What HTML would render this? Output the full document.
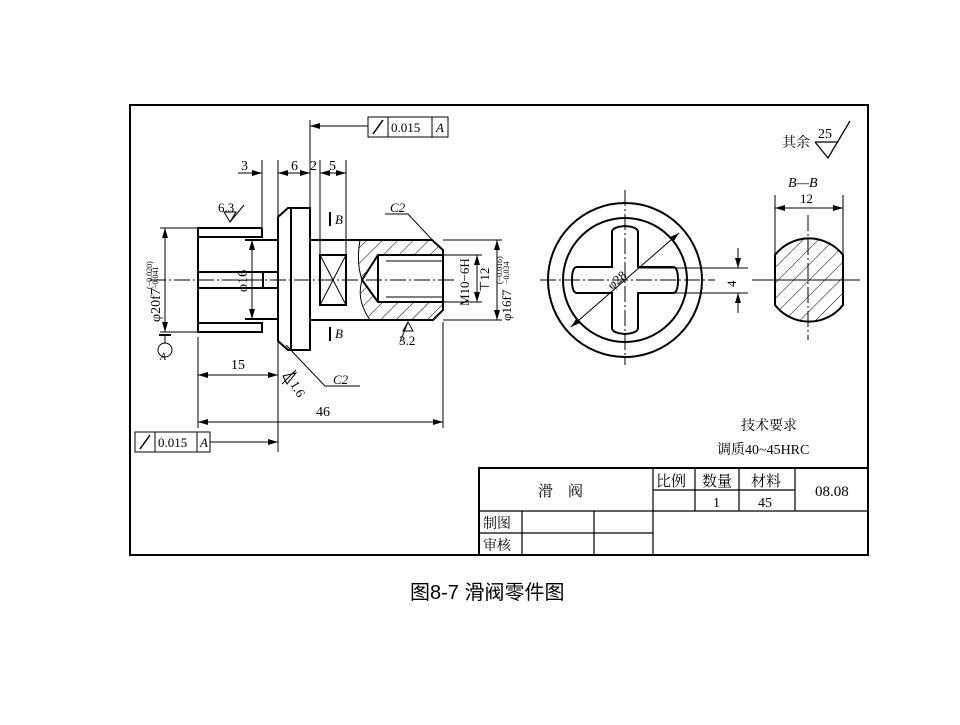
<!DOCTYPE html>
<html><head><meta charset="utf-8"><style>
body{margin:0;background:#fff}
svg text{font-family:"Liberation Serif","Noto Serif CJK SC",serif;fill:#000}
</style></head><body>
<svg width="960" height="720" viewBox="0 0 960 720" xmlns="http://www.w3.org/2000/svg">
<defs>
<marker id="a" viewBox="0 0 10 6" refX="10" refY="3" markerWidth="10" markerHeight="6" orient="auto-start-reverse" markerUnits="userSpaceOnUse"><path d="M0,0L10,3L0,6z"/></marker>
<pattern id="h" width="11" height="11" patternUnits="userSpaceOnUse" patternTransform="rotate(45)"><line x1="0" y1="0" x2="0" y2="11" stroke="#000" stroke-width="1"/></pattern>
</defs>
<rect x="130" y="105" width="738" height="450" fill="none" stroke="#000" stroke-width="2"/>
<g fill="none" stroke="#000" stroke-width="1">
<line x1="150" y1="280" x2="455" y2="280" stroke-dasharray="16,3,2,3"/>
<path d="M360,240 L432,240 L443,250 L443,255 L378,255 L362,280 L378,302 L443,302 L443,310 L433,320 L370,320 Q356,300 362,285 Q356,260 360,240z" fill="url(#h)" stroke="none"/>
</g>
<g fill="none" stroke="#000" stroke-width="2">
<path d="M262,228 L198,228 L198,332 L262,332 L262,323 L198,323 M198,237 L262,237 L262,228"/>
<path d="M245,240 L278,240 M245,319 L278,319"/>
<path d="M198,272 L278,272 M198,288 L278,288 M263,272 L263,288"/>
<path d="M288,208 L310,208 L310,350 L288,350 L278,341 L278,217 Z"/>
<line x1="291" y1="208" x2="291" y2="350"/>
<path d="M310,240 L432,240 L443,250 L443,310 L433,320 L310,320"/>
<path d="M360,240 Q356,262 362,280 Q356,300 370,320" stroke-width="1"/>
<path d="M443,255 L378,255 L362,280 L378,302 L443,302 M378,255 L378,302"/>
<path d="M386,261 L443,261 M386,297 L443,297" stroke-width="1"/>
<rect x="320" y="255" width="26" height="50"/>
</g>
<g stroke="#000" stroke-width="1" fill="none">
<line x1="320" y1="255" x2="346" y2="305"/><line x1="346" y1="255" x2="320" y2="305"/>
<line x1="330" y1="212" x2="330" y2="226" stroke-width="2"/><line x1="330" y1="327" x2="330" y2="341" stroke-width="2"/>
<line x1="262" y1="160" x2="262" y2="228"/><line x1="278" y1="160" x2="278" y2="452"/>
<line x1="310" y1="120" x2="310" y2="208"/><line x1="320" y1="160" x2="320" y2="255"/><line x1="346" y1="160" x2="346" y2="255"/>
<line x1="198" y1="337" x2="198" y2="428"/><line x1="443" y1="322" x2="443" y2="428"/>
<line x1="238" y1="173" x2="262" y2="173" marker-end="url(#a)"/>
<line x1="278" y1="173" x2="310" y2="173" marker-start="url(#a)" marker-end="url(#a)"/>
<line x1="320" y1="173" x2="346" y2="173" marker-start="url(#a)" marker-end="url(#a)"/>
<line x1="310" y1="126" x2="368" y2="126" marker-start="url(#a)"/>
<line x1="198" y1="375" x2="278" y2="375" marker-start="url(#a)" marker-end="url(#a)"/>
<line x1="198" y1="422" x2="443" y2="422" marker-start="url(#a)" marker-end="url(#a)"/>
<line x1="210" y1="442" x2="278" y2="442" marker-end="url(#a)"/>
<line x1="160" y1="228" x2="198" y2="228"/><line x1="160" y1="332" x2="198" y2="332"/>
<line x1="165" y1="228" x2="165" y2="332" marker-start="url(#a)" marker-end="url(#a)"/>
<line x1="159" y1="335" x2="171" y2="335" stroke-width="2"/><line x1="165" y1="335" x2="165" y2="343"/>
<circle cx="165" cy="350" r="7"/>
<line x1="252" y1="240" x2="252" y2="319" marker-start="url(#a)" marker-end="url(#a)"/>
<line x1="443" y1="255" x2="482" y2="255"/><line x1="443" y1="302" x2="482" y2="302"/>
<line x1="477" y1="255" x2="477" y2="302" marker-start="url(#a)" marker-end="url(#a)"/>
<line x1="443" y1="240" x2="502" y2="240"/><line x1="443" y1="320" x2="502" y2="320"/>
<line x1="497" y1="240" x2="497" y2="320" marker-start="url(#a)" marker-end="url(#a)"/>
<path d="M385,214 L408,214 L437,245"/>
<path d="M286,345 L325,386 L360,386"/>
<path d="M224,212 L230,222 L236,212 Z M230,222 L244,205" />
<path d="M403,331 L408,322 L413,331 Z M400,342 L408,322"/>
<path d="M283,376 L296,373 L287,384 Z M282,384 L296,370" />
<rect x="368" y="117" width="80" height="20"/><line x1="388" y1="117" x2="388" y2="137"/><line x1="432" y1="117" x2="432" y2="137"/>
<line x1="373" y1="134" x2="383" y2="120" stroke-width="1.5"/>
<rect x="135" y="432" width="75" height="20"/><line x1="155" y1="432" x2="155" y2="452"/><line x1="197" y1="432" x2="197" y2="452"/>
<line x1="140" y1="449" x2="150" y2="435" stroke-width="1.5"/>
<line x1="540" y1="280" x2="715" y2="280" stroke-dasharray="16,3,2,3"/>
<line x1="625" y1="190" x2="625" y2="365" stroke-dasharray="16,3,2,3"/>
<circle cx="625" cy="280" r="77" stroke-width="2"/>
<circle cx="625" cy="280" r="62" stroke-width="2"/>
<path d="M612,232 Q612,227 625,226 Q638,227 638,232 L638,267 L673,267 Q678,267 678,280 Q678,293 673,293 L638,293 L638,328 Q638,333 625,334 Q612,333 612,328 L612,293 L577,293 Q572,293 572,280 Q572,267 577,267 L612,267 Z" stroke-width="2"/>
<line x1="571" y1="327" x2="679" y2="233" marker-start="url(#a)" marker-end="url(#a)"/>
<line x1="638" y1="268" x2="748" y2="268"/><line x1="638" y1="293" x2="748" y2="293"/>
<line x1="738" y1="248" x2="738" y2="268" marker-end="url(#a)"/><line x1="738" y1="313" x2="738" y2="293" marker-end="url(#a)"/>
<line x1="752" y1="280" x2="860" y2="280"/>
<line x1="808" y1="215" x2="808" y2="340" stroke-dasharray="16,3,2,3"/>
<path d="M775,255 A43,43 0 0 1 843,255 L843,305 A43,43 0 0 1 775,305 Z" fill="url(#h)" stroke-width="2"/>
<line x1="775" y1="195" x2="775" y2="255"/><line x1="843" y1="195" x2="843" y2="255"/>
<line x1="775" y1="208" x2="843" y2="208" marker-start="url(#a)" marker-end="url(#a)"/>
<path d="M815,142 L828,158 L850,121 M815,142 L838,142" stroke-width="1.3"/>
</g>
<g font-size="14">
<text x="391" y="132" font-size="13">0.015</text><text x="436" y="132" font-style="italic" font-size="13">A</text>
<text x="158" y="447" font-size="13">0.015</text><text x="200" y="447" font-style="italic" font-size="13">A</text>
<text x="241" y="170">3</text><text x="291" y="170">6</text><text x="310" y="170">2</text><text x="329" y="170">5</text>
<text x="218" y="212" font-size="13">6.3</text>
<text x="335" y="224" font-style="italic" font-size="13">B</text><text x="335" y="338" font-style="italic" font-size="13">B</text>
<text x="390" y="212" font-style="italic" font-size="13">C2</text><text x="333" y="384" font-style="italic" font-size="13">C2</text>
<text x="399" y="345" font-size="13">3.2</text>
<text x="231" y="369">15</text><text x="316" y="416">46</text>
<text x="160" y="360" font-style="italic" font-size="10">A</text>
<text transform="translate(290,384) rotate(60)" font-size="13">1.6</text>
<text transform="translate(160,322) rotate(-90)" font-size="14">φ20f7</text>
<text transform="translate(152,289) rotate(-90)" font-size="8">(−0.020)</text>
<text transform="translate(158,289) rotate(-90)" font-size="8">−0.041</text>
<text transform="translate(247,292) rotate(-90)" font-size="14">φ16</text>
<text transform="translate(469,306) rotate(-90)" font-size="13">M10−6H</text>
<text transform="translate(489,292) rotate(-90)" font-size="13">⊤12</text>
<text transform="translate(511,321) rotate(-90)" font-size="13">φ16f7</text>
<text transform="translate(502,284) rotate(-90)" font-size="8">(−0.016)</text>
<text transform="translate(509,284) rotate(-90)" font-size="8">−0.034</text>
<text transform="translate(612,290) rotate(-41)" font-size="13">φ28</text>
<text transform="translate(736,287) rotate(-90)" font-size="13">4</text>
<text x="788" y="187" font-style="italic">B—B</text>
<text x="800" y="203" font-size="13">12</text>
<text x="782" y="147">其余</text>
<text x="818" y="138">25</text>
<text x="741" y="430">技术要求</text>
<text x="717" y="454">调质40~45HRC</text>
</g>
<g fill="none" stroke="#000">
<rect x="479" y="468" width="389" height="87" stroke-width="2"/>
<g stroke-width="1.2">
<line x1="479" y1="511" x2="868" y2="511"/><line x1="479" y1="533" x2="653" y2="533"/>
<line x1="522" y1="511" x2="522" y2="555"/><line x1="594" y1="511" x2="594" y2="555"/>
<line x1="653" y1="468" x2="653" y2="555"/><line x1="695" y1="468" x2="695" y2="511"/>
<line x1="739" y1="468" x2="739" y2="511"/><line x1="795" y1="468" x2="795" y2="511"/>
<line x1="653" y1="490" x2="795" y2="490"/>
</g></g>
<g font-size="15">
<text x="538" y="496">滑　阀</text>
<text x="656" y="486">比例</text><text x="702" y="486">数量</text><text x="751" y="486">材料</text>
<text x="713" y="507" font-size="14">1</text><text x="758" y="507" font-size="14">45</text>
<text x="815" y="496">08.08</text>
<text x="483" y="528" font-size="14">制图</text><text x="483" y="550" font-size="14">审核</text>
</g>
<text x="410" y="599" font-size="20" style="font-family:'Liberation Sans','Noto Sans CJK SC',sans-serif">图8-7  滑阀零件图</text>
</svg>
</body></html>
